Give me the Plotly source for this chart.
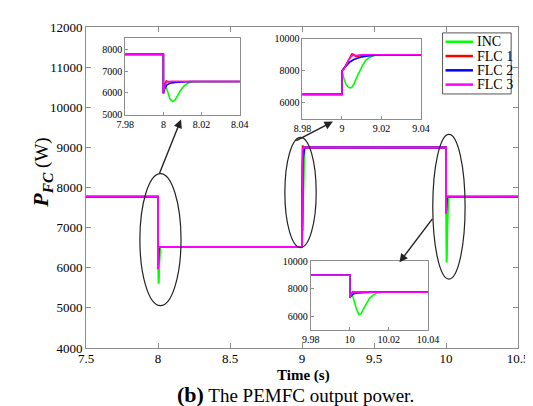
import plotly.graph_objects as go

# ---------------- data ----------------
t_inc = [7.5, 8.0, 8.0, 8.0007, 8.0015, 8.0025, 8.0035, 8.0048, 8.006, 8.0075, 8.009, 8.011, 8.013, 8.0155, 8.018,
         9.0, 9.0, 9.001, 9.002, 9.003, 9.004, 9.005, 9.006, 9.0075, 9.009, 9.0105, 9.012, 9.014, 9.0167, 9.019,
         10.0, 10.0, 10.0006, 10.0015, 10.0025, 10.0035, 10.0047, 10.0058, 10.007, 10.0085, 10.01, 10.012, 10.014, 10.0165,
         10.5]
p_inc = [7770, 7770, 5980, 6450, 6250, 5950, 5720, 5600, 5660, 5880, 6120, 6330, 6450, 6510, 6520,
         6520, 8000, 7500, 7150, 6980, 6920, 6960, 7150, 7600, 8000, 8350, 8650, 8850, 8980, 9000,
         9000, 7350, 7700, 7450, 7000, 6500, 6130, 6200, 6550, 6950, 7300, 7550, 7700, 7760,
         7770]

t_flc1 = [7.5, 8.0, 8.0, 8.0008, 8.0015, 8.0025, 8.004,
          9.0, 9.0, 9.001, 9.0025, 9.004, 9.005, 9.006, 9.007, 9.008, 9.01, 9.012,
          10.0, 10.0, 10.0008, 10.0015, 10.0025,
          10.5]
p_flc1 = [7770, 7770, 5970, 6400, 6550, 6500, 6520,
          6520, 8000, 8150, 8500, 8900, 9050, 9020, 8880, 8900, 8980, 9000,
          9000, 7360, 7650, 7800, 7770,
          7770]

t_flc2 = [7.5, 8.0, 8.0, 8.001, 8.002, 8.0035, 8.006, 8.01, 8.014,
          9.0, 9.0, 9.001, 9.0025, 9.004, 9.006, 9.008, 9.01, 9.013, 9.016, 9.02,
          10.0, 10.0, 10.001, 10.002, 10.004, 10.007, 10.012,
          10.5]
p_flc2 = [7770, 7770, 5990, 6250, 6380, 6440, 6480, 6510, 6520,
          6520, 8000, 8150, 8350, 8550, 8700, 8800, 8870, 8930, 8970, 9000,
          9000, 7380, 7550, 7650, 7710, 7740, 7770,
          7770]

t_flc3 = [7.5, 8.0, 8.0, 8.0008, 8.0017,
          9.0, 9.0, 9.001, 9.0025, 9.004, 9.0055, 9.007, 9.009, 9.011,
          10.0, 10.0, 10.0008, 10.0017,
          10.5]
p_flc3 = [7770, 7770, 5960, 6350, 6520,
          6520, 8000, 8100, 8450, 8800, 8980, 8950, 8990, 9000,
          9000, 7350, 7650, 7770,
          7770]

series_names = ["INC", "FLC 1", "FLC 2", "FLC 3"]
series_t = [t_inc, t_flc1, t_flc2, t_flc3]
series_p = [p_inc, p_flc1, p_flc2, p_flc3]
series_colors = ["#00ff00", "#ff0000", "#0000ff", "#ff00ff"]

inset1_x_ticks = [7.98, 8.0, 8.02, 8.04]
inset1_x_labels = ["7.98", "8", "8.02", "8.04"]
inset1_y_ticks = [5000, 6000, 7000, 8000]
inset2_x_ticks = [8.98, 9.0, 9.02, 9.04]
inset2_x_labels = ["8.98", "9", "9.02", "9.04"]
inset3_x_ticks = [9.98, 10.0, 10.02, 10.04]
inset3_x_labels = ["9.98", "10", "10.02", "10.04"]
inset_y_ticks = [6000, 8000, 10000]

# ---------------- layout helpers (pixel -> paper) ----------------
W, H = 533, 406
L, R, T, B = 78, 519, 14, 340


def px(x):
    return (x - L) / (R - L)


def py(y):
    return (B - y) / (B - T)


FONT = "Liberation Serif, DejaVu Serif, Times New Roman, serif"
GRAY = "#8c8c8c"

fig = go.Figure()

for name, tt, pp, col in zip(series_names, series_t, series_p, series_colors):
    fig.add_trace(go.Scatter(x=tt, y=pp, mode="lines", name=name, showlegend=False,
                             line=dict(color=col, width=2), xaxis="x", yaxis="y"))
for k, ax in enumerate(["2", "3", "4"]):
    for name, tt, pp, col in zip(series_names, series_t, series_p, series_colors):
        fig.add_trace(go.Scatter(x=tt, y=pp, mode="lines", name=name, showlegend=False,
                                 line=dict(color=col, width=1.6), xaxis="x" + ax, yaxis="y" + ax))

main_ax = dict(showline=True, linecolor=GRAY, linewidth=1, mirror="ticks", ticks="inside",
               ticklen=5, tickcolor=GRAY, showgrid=False, zeroline=False,
               tickfont=dict(family=FONT, size=13, color="black"))
inset_ax = dict(showline=True, linecolor=GRAY, linewidth=1, mirror=True, ticks="inside",
                ticklen=3, tickcolor=GRAY, showgrid=False, zeroline=False,
                tickfont=dict(family=FONT, size=10, color="black"))

fig.update_layout(
    width=W, height=H,
    margin=dict(l=L, r=W - R, t=T, b=H - B),
    paper_bgcolor="white", plot_bgcolor="white",
    font=dict(family=FONT, color="black"),
    xaxis=dict(range=[7.5, 10.5], dtick=0.5, domain=[0, 1], ticklabelstandoff=-2, **main_ax),
    yaxis=dict(range=[4000, 12000], dtick=1000, tickformat="d", domain=[0, 1], **main_ax),
    xaxis2=dict(range=[7.98, 8.04], tickvals=inset1_x_ticks, ticktext=inset1_x_labels,
                domain=[px(118), px(235)], anchor="y2", **inset_ax),
    yaxis2=dict(range=[5000, 8530], tickvals=inset1_y_ticks, tickformat="d",
                domain=[py(103), py(25)], anchor="x2", **inset_ax),
    xaxis3=dict(range=[8.98, 9.04], tickvals=inset2_x_ticks, ticktext=inset2_x_labels,
                domain=[px(299), px(420)], anchor="y3", **inset_ax),
    yaxis3=dict(range=[5000, 10000], tickvals=inset_y_ticks, tickformat="d",
                domain=[py(107), py(26)], anchor="x3", **inset_ax),
    xaxis4=dict(range=[9.98, 10.04], tickvals=inset3_x_ticks, ticktext=inset3_x_labels,
                domain=[px(307.5), px(427)], anchor="y4", **inset_ax),
    yaxis4=dict(range=[5000, 10000], tickvals=inset_y_ticks, tickformat="d",
                domain=[py(322), py(252)], anchor="x4", **inset_ax),
    showlegend=False,
)

# legend (drawn as box + line samples + text)
fig.add_shape(type="rect", xref="paper", yref="paper",
              x0=px(442), x1=px(512), y0=py(82), y1=py(20),
              line=dict(color="#555555", width=1), fillcolor="white", layer="above")
legend_rows = [29, 43.5, 58, 72.5]
for name, col, yy in zip(series_names, series_colors, legend_rows):
    fig.add_shape(type="line", xref="paper", yref="paper",
                  x0=px(445), x1=px(473), y0=py(yy), y1=py(yy),
                  line=dict(color=col, width=2.5), layer="above")
    fig.add_annotation(x=px(475), y=py(yy), xref="paper", yref="paper", showarrow=False,
                       xanchor="left", yanchor="middle", text=name,
                       font=dict(family=FONT, size=14, color="black"))

# ellipses
for (x0, x1, y0, y1) in [(133, 175, 297, 163), (281, 313, 238, 126), (432, 465, 270, 123)]:
    fig.add_shape(type="circle", xref="paper", yref="paper",
                  x0=px(x0), x1=px(x1), y0=py(y0), y1=py(y1),
                  line=dict(color="#222222", width=1.2), fillcolor="rgba(0,0,0,0)")

# arrows (head, tail in pixels)
for (hx, hy, tx, ty) in [(175, 108, 153, 163), (330, 110, 292, 130), (398, 253, 432, 208)]:
    fig.add_annotation(x=px(hx), y=py(hy), xref="paper", yref="paper",
                       ax=tx - hx, ay=ty - hy, axref="pixel", ayref="pixel",
                       showarrow=True, arrowhead=2, arrowsize=1.2, arrowwidth=1.4,
                       arrowcolor="#222222", text="")

# axis titles and caption
fig.add_annotation(x=px(33), y=py(162), xref="paper", yref="paper", showarrow=False,
                   textangle=-90, xanchor="center", yanchor="middle",
                   text="<b><i>P</i></b><sub><b><i>FC</i></b></sub><span style='font-size:19px'> (W)</span>",
                   font=dict(family=FONT, size=22, color="black"))
fig.add_annotation(x=px(300), y=py(368), xref="paper", yref="paper", showarrow=False,
                   xanchor="center", yanchor="middle", text="<b>Time (s)</b>",
                   font=dict(family=FONT, size=15, color="black"))
fig.add_annotation(x=px(292), y=py(387), xref="paper", yref="paper", showarrow=False,
                   xanchor="center", yanchor="middle",
                   text="<b><span style='font-size:22px'>(b)</span></b> The PEMFC output power.",
                   font=dict(family=FONT, size=19, color="black"))

fig.write_html("out.html")
